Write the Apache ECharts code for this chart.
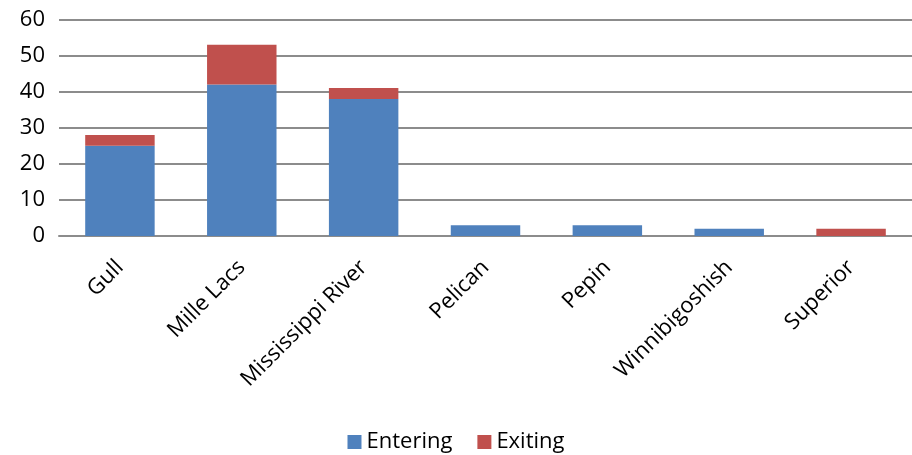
<!DOCTYPE html>
<html>
<head>
<meta charset="utf-8">
<script src="https://cdn.jsdelivr.net/npm/echarts@6/dist/echarts.min.js"></script>
<style>html,body{margin:0;padding:0;background:#fff;}#c{width:912px;height:455px;}</style>
</head>
<body>
<div id="c"></div>
<script>
var categories = ["Gull", "Mille Lacs", "Mississippi River", "Pelican", "Pepin", "Winnibigoshish", "Superior"];
var entering = [25, 42, 38, 3, 3, 2, 0];
var exiting = [3, 11, 3, 0, 0, 0, 2];
var yTicks = [0, 10, 20, 30, 40, 50, 60];

var font = '"Open Sans", "Liberation Sans", sans-serif';
var chart = echarts.init(document.getElementById('c'));
chart.setOption({
  animation: false,
  grid: { left: 59, right: 0, top: 19.5, bottom: 219, containLabel: false },
  legend: {
    top: 426, left: 'center',
    itemWidth: 14, itemHeight: 14, itemGap: 25,
    icon: 'rect',
    textStyle: { fontFamily: font, fontSize: 22, color: '#000' },
    data: ['Entering', 'Exiting']
  },
  xAxis: {
    type: 'category',
    data: categories,
    axisLine: { lineStyle: { color: '#8c8c8c', width: 2 } },
    axisTick: { show: false },
    axisLabel: { rotate: 45, margin: 28, fontFamily: font, fontSize: 22, color: '#000', interval: 0 }
  },
  yAxis: {
    type: 'value', min: yTicks[0], max: yTicks[yTicks.length - 1], interval: 10,
    axisLine: { show: false },
    axisTick: { show: false },
    splitLine: { lineStyle: { color: '#8c8c8c', width: 2 } },
    axisLabel: { margin: 14, fontFamily: font, fontSize: 22, color: '#000' }
  },
  series: [
    { name: 'Entering', type: 'bar', stack: 't', data: entering, barWidth: '57%',
      itemStyle: { color: '#4F81BD' } },
    { name: 'Exiting', type: 'bar', stack: 't', data: exiting, barWidth: '57%',
      itemStyle: { color: '#C0504D' } }
  ]
});
</script>
</body>
</html>
